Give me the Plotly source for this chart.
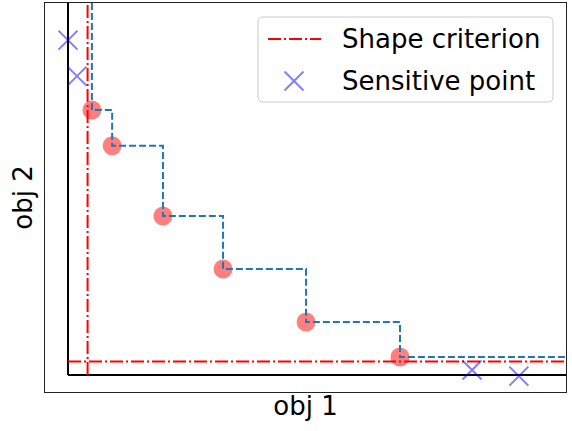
import plotly.graph_objects as go

# Pareto front points (obj 1, obj 2)
front_obj1 = [0.72, 1.33, 2.86, 4.67, 7.17, 10.0]
front_obj2 = [10.0, 8.65, 6.0, 4.0, 2.0, 0.68]

# Sensitive points
sens_obj1 = [0.0, 0.27, 12.17, 13.58]
sens_obj2 = [12.64, 11.28, 0.19, -0.04]

# Shape criterion thresholds
crit_obj1 = 0.59
crit_obj2 = 0.51

# Axis limits
x_range = [-0.693, 15.0]
y_range = [-0.64, 14.04]

W, H = 572, 431
L, R, T, B = 45, 6, 3, 39
PW, PH = W - L - R, H - T - B

FONT = "DejaVu Sans"
RED = "rgba(255,0,0,0.5)"
BLUE_X = "rgba(0,0,255,0.5)"
STEP_BLUE = "#1f77b4"
DASHDOT = "13px,3px,2px,3px"


def px(x):
    return (x - L) / PW


def py(y):
    return (H - B - y) / PH


fig = go.Figure()

# Attainment staircase through the front, extended to the axis limits
step_x = [front_obj1[0]] + front_obj1 + [x_range[1]]
step_y = [y_range[1]] + front_obj2 + [front_obj2[-1]]

fig.add_trace(go.Scatter(
    x=front_obj1, y=front_obj2, mode="markers",
    marker=dict(size=19, color=RED, line=dict(width=0)),
    showlegend=False, hoverinfo="skip",
))
fig.add_trace(go.Scatter(
    x=sens_obj1, y=sens_obj2, mode="markers",
    marker=dict(symbol="x-thin", size=19, color=BLUE_X,
                line=dict(width=2, color=BLUE_X)),
    showlegend=False, hoverinfo="skip",
))
fig.add_trace(go.Scatter(
    x=step_x, y=step_y, mode="lines", line_shape="hv",
    line=dict(color=STEP_BLUE, width=2, dash="7px,3px"),
    showlegend=False, hoverinfo="skip",
))

# Origin axes: from the origin out to the far limits
fig.add_shape(type="line", xref="x", yref="y", x0=0, x1=0, y0=0, y1=y_range[1],
              line=dict(color="black", width=2), layer="below")
fig.add_shape(type="line", xref="x", yref="y", x0=0, x1=x_range[1], y0=0, y1=0,
              line=dict(color="black", width=2), layer="below")

# Shape criterion lines, starting at the origin axes
fig.add_shape(type="line", xref="x", yref="y", x0=crit_obj1, x1=crit_obj1,
              y0=0, y1=y_range[1], line=dict(color="red", width=2, dash=DASHDOT), layer="below")
fig.add_shape(type="line", xref="x", yref="y", x0=0, x1=x_range[1],
              y0=crit_obj2, y1=crit_obj2, line=dict(color="red", width=2, dash=DASHDOT), layer="below")

# Legend box with rounded corners
lx0, lx1, ly0, ly1, r = 258, 553, 17, 102, 5
rx, ry = r / PW, r / PH
X0, X1, Y0, Y1 = px(lx0), px(lx1), py(ly0), py(ly1)
path = (f"M {X0+rx},{Y0} L {X1-rx},{Y0} Q {X1},{Y0} {X1},{Y0-ry} "
        f"L {X1},{Y1+ry} Q {X1},{Y1} {X1-rx},{Y1} "
        f"L {X0+rx},{Y1} Q {X0},{Y1} {X0},{Y1+ry} "
        f"L {X0},{Y0-ry} Q {X0},{Y0} {X0+rx},{Y0} Z")
fig.add_shape(type="path", xref="paper", yref="paper", path=path,
              fillcolor="rgba(255,255,255,0.8)", line=dict(color="#cccccc", width=1))
fig.add_shape(type="line", xref="paper", yref="paper",
              x0=px(268), x1=px(321), y0=py(39), y1=py(39),
              line=dict(color="red", width=2, dash=DASHDOT))
cx, cy, h = 294, 81, 9.5
for dx in (-1, 1):
    fig.add_shape(type="line", xref="paper", yref="paper",
                  x0=px(cx - h), y0=py(cy - dx * h), x1=px(cx + h), y1=py(cy + dx * h),
                  line=dict(color="#8080ff", width=2))
for label, yy in (("Shape criterion", 39), ("Sensitive point", 81)):
    fig.add_annotation(text=label, xref="paper", yref="paper", x=px(340), y=py(yy),
                       xanchor="left", yanchor="middle", showarrow=False,
                       font=dict(family=FONT, size=26, color="black"))

axis_common = dict(showgrid=False, showticklabels=False, ticks="", zeroline=False,
                   showline=True, mirror=True, linecolor="#222222", linewidth=1)

fig.update_layout(
    width=W, height=H,
    margin=dict(l=L, r=R, t=T, b=B, autoexpand=False),
    paper_bgcolor="white", plot_bgcolor="white",
    font=dict(family=FONT, size=26, color="black"),
    xaxis=dict(range=x_range, title=dict(text="obj 1", standoff=4,
                                         font=dict(family=FONT, size=26)), **axis_common),
    yaxis=dict(range=y_range, title=dict(text="obj 2", standoff=3,
                                         font=dict(family=FONT, size=26)), **axis_common),
    showlegend=False,
)

fig.write_html("out.html")
